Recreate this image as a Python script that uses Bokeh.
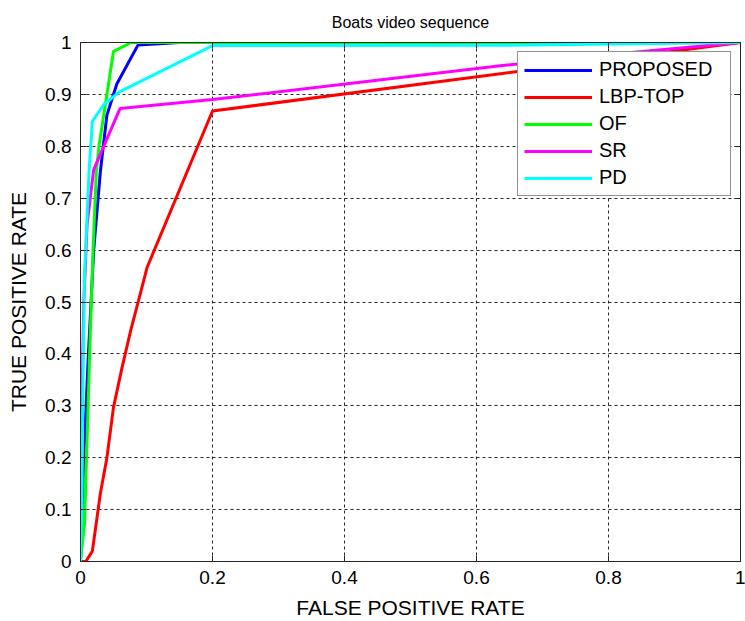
from bokeh.plotting import figure
from bokeh.models import Range1d, FixedTicker, LinearAxis
from bokeh.embed import file_html
from bokeh.resources import INLINE

# ---- data ----
proposed_fpr = [0.0, 0.005, 0.012, 0.02, 0.03, 0.04, 0.055, 0.087, 0.15, 1.0]
proposed_tpr = [0.0, 0.2, 0.4, 0.6, 0.75, 0.86, 0.92, 0.995, 1.0, 1.0]

lbp_fpr = [0.0, 0.008, 0.018, 0.023, 0.03, 0.04, 0.05, 0.063, 0.076, 0.088, 0.101, 0.2, 1.0]
lbp_tpr = [0.0, 0.0, 0.02, 0.066, 0.13, 0.2, 0.297, 0.374, 0.445, 0.503, 0.567, 0.868, 1.0]

of_fpr = [0.0, 0.006, 0.012, 0.014, 0.019, 0.024, 0.028, 0.05, 0.077, 1.0]
of_tpr = [0.0, 0.07, 0.32, 0.407, 0.6, 0.753, 0.8, 0.983, 1.0, 1.0]

sr_fpr = [0.0, 0.002, 0.005, 0.01, 0.02, 0.06, 0.2, 0.636, 0.81, 1.0]
sr_tpr = [0.0, 0.3, 0.5, 0.65, 0.755, 0.873, 0.89, 0.955, 0.978, 1.0]

pd_fpr = [0.0, 0.002, 0.004, 0.006, 0.013, 0.018, 0.035, 0.059, 0.2, 0.68, 1.0]
pd_tpr = [0.0, 0.1, 0.368, 0.55, 0.753, 0.848, 0.88, 0.905, 0.994, 0.995, 1.0]

series_names = ["PROPOSED", "LBP-TOP", "OF", "SR", "PD"]
series_colors = ["#0000FF", "#FF0000", "#00FF00", "#FF00FF", "#00FFFF"]

x_ticks = [0, 0.2, 0.4, 0.6, 0.8, 1.0]
x_tick_labels = ["0", "0.2", "0.4", "0.6", "0.8", "1"]
y_ticks = [0, 0.1, 0.2, 0.3, 0.4, 0.5, 0.6, 0.7, 0.8, 0.9, 1.0]
y_tick_labels = ["0", "0.1", "0.2", "0.3", "0.4", "0.5", "0.6", "0.7", "0.8", "0.9", "1"]

FONT = "Liberation Sans"

p = figure(width=745, height=621, output_backend="svg", toolbar_location=None,
           x_range=Range1d(0, 1), y_range=Range1d(0, 1),
           min_border_left=80, min_border_right=5, min_border_top=42, min_border_bottom=60,
           title="Boats video sequence")

p.background_fill_color = "white"
p.border_fill_color = "white"
p.outline_line_color = "#262626"
p.outline_line_width = 1

p.title.align = "center"
p.title.text_font = FONT
p.title.text_font_style = "normal"
p.title.text_font_size = "16px"
p.title.text_color = "black"
p.title.standoff = 23

xs = [proposed_fpr, lbp_fpr, of_fpr, sr_fpr, pd_fpr]
ys = [proposed_tpr, lbp_tpr, of_tpr, sr_tpr, pd_tpr]
for x, y, name, c in zip(xs, ys, series_names, series_colors):
    p.line(x, y, line_color=c, line_width=3, legend_label=name)

for ax, ticks, labels in ((p.xaxis[0], x_ticks, x_tick_labels), (p.yaxis[0], y_ticks, y_tick_labels)):
    ax.ticker = FixedTicker(ticks=ticks)
    ax.major_label_overrides = {t: l for t, l in zip(ticks, labels)}
    ax.major_tick_in = 6
    ax.major_tick_out = 0
    ax.minor_tick_line_color = None
    ax.axis_line_color = "#262626"
    ax.major_tick_line_color = "#262626"
    ax.major_label_text_font = FONT
    ax.major_label_text_font_size = "19px"
    ax.major_label_text_color = "black"
    ax.axis_label_text_font = FONT
    ax.axis_label_text_font_size = "21px"
    ax.axis_label_text_font_style = "normal"
    ax.axis_label_text_color = "black"

p.xaxis.axis_label = "FALSE POSITIVE RATE"
p.yaxis.axis_label = "TRUE POSITIVE RATE"
p.xaxis.major_label_standoff = 9
p.yaxis.major_label_standoff = 9
p.xaxis.axis_label_standoff = 9
p.yaxis.axis_label_standoff = 12

# ticks on the top and right edges (MATLAB box)
for side, ticks in (("above", x_ticks), ("right", y_ticks)):
    ax = LinearAxis(ticker=FixedTicker(ticks=ticks), major_label_text_color=None,
                    major_label_text_font_size="0px",
                    major_tick_in=6, major_tick_out=0, minor_tick_line_color=None,
                    axis_line_color="#262626", major_tick_line_color="#262626",
                    major_label_standoff=0)
    p.add_layout(ax, side)

for g in (p.xgrid[0], p.ygrid[0]):
    g.grid_line_color = "#262626"
    g.grid_line_dash = "3 3"
    g.grid_line_width = 1
p.xgrid.ticker = FixedTicker(ticks=x_ticks)
p.ygrid.ticker = FixedTicker(ticks=y_ticks)

lg = p.legend[0]
lg.location = "top_right"
lg.margin = 9
lg.padding = 6
lg.spacing = 4
lg.glyph_width = 68
lg.glyph_height = 20
lg.label_height = 20
lg.label_width = 125
lg.label_standoff = 7
lg.label_text_font = FONT
lg.label_text_font_size = "20px"
lg.label_text_color = "black"
lg.border_line_color = "#262626"
lg.border_line_width = 1
lg.background_fill_color = "white"
lg.background_fill_alpha = 1.0

open("out.html", "w").write(file_html(p, INLINE))
